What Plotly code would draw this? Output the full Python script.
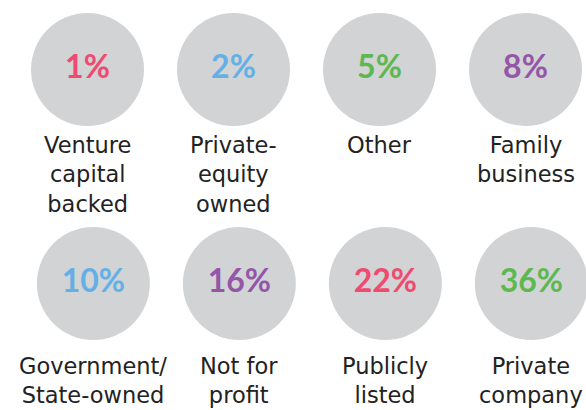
import plotly.graph_objects as go

labels = ["Venture<br>capital<br>backed", "Private-<br>equity<br>owned", "Other", "Family<br>business",
          "Government/<br>State-owned", "Not for<br>profit", "Publicly<br>listed", "Private<br>company"]
values = [1, 2, 5, 8, 10, 16, 22, 36]
colors = ["#ef4a6f", "#64b0e6", "#5cb84f", "#9456a8", "#64b0e6", "#9456a8", "#ef4a6f", "#5cb84f"]

ncols = 4
cols = [i % ncols + (0.04 if i // ncols == 1 else 0) for i in range(len(values))]
rows = [i // ncols for i in range(len(values))]

fig = go.Figure()
fig.add_trace(go.Scatter(
    x=cols, y=rows, mode="markers+text",
    marker=dict(size=113, color="#d1d3d4", line=dict(width=0)),
    text=[f"{v}%" for v in values],
    textposition="middle center",
    textfont=dict(family="Lato", size=32, color=colors, weight="bold"),
    hoverinfo="skip", showlegend=False,
))

label_off = [0.285, 0.315]
for c, r, lab in zip(cols, rows, labels):
    fig.add_annotation(x=c, y=r + label_off[r], text=lab, showarrow=False,
                       xanchor="center", yanchor="top",
                       font=dict(family="DejaVu Sans", size=22.5, color="#222222"))

fig.update_layout(
    width=586, height=410, margin=dict(l=0, r=0, t=0, b=0),
    paper_bgcolor="white", plot_bgcolor="white",
    xaxis=dict(range=[-87.5 / 146, (586 - 87.5) / 146], visible=False, fixedrange=True),
    yaxis=dict(range=[(410 - 69.5) / 214, -69.5 / 214], visible=False, fixedrange=True),
)
fig.write_html("out.html", config={"displayModeBar": False},
               post_script="document.body.style.margin='0';")
